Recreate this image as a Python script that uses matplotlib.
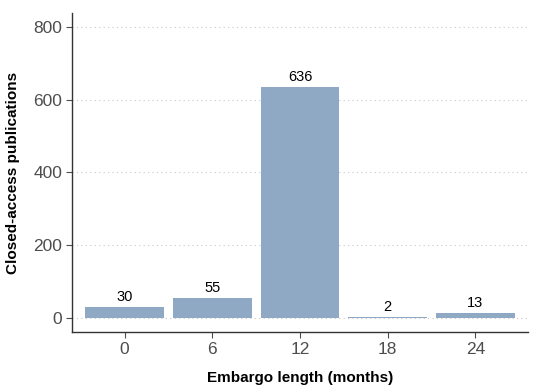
import matplotlib
matplotlib.use("Agg")
import matplotlib.pyplot as plt

months = ["0", "6", "12", "18", "24"]
counts = [30, 55, 636, 2, 13]
yticks = [0, 200, 400, 600, 800]

plt.rcParams['font.family'] = ['Liberation Sans', 'DejaVu Sans']

fig = plt.figure(figsize=(5.5, 3.92), dpi=100)
ax = fig.add_axes([0.131, 0.153, 0.829, 0.814])

x = range(len(months))
ax.bar(x, counts, width=0.9, color='#8FA8C4', zorder=2)
for xi, c in zip(x, counts):
    ax.text(xi, c + 8, str(c), ha='center', va='bottom', fontsize=10.5, color='black')

ax.set_xlim(-0.6, len(months) - 1 + 0.6)
ax.set_ylim(-40, 840)
ax.set_xticks(list(x))
ax.set_xticklabels(months)
ax.set_yticks(yticks)
ax.yaxis.grid(True, linestyle=(0, (1, 3)), color='#C8C8C8', linewidth=0.8, zorder=0)
ax.set_axisbelow(True)

for s in ['top', 'right']:
    ax.spines[s].set_visible(False)
for s in ['left', 'bottom']:
    ax.spines[s].set_color('#333333')
    ax.spines[s].set_linewidth(1.0)

ax.tick_params(axis='both', colors='#4D4D4D', labelsize=12.5, length=4, width=0.8, pad=3)
ax.set_xlabel('Embargo length (months)', fontsize=11, fontweight='bold', labelpad=10)
ax.set_ylabel('Closed-access publications', fontsize=11, fontweight='bold', labelpad=10)

fig.savefig('out.png', dpi=100)
